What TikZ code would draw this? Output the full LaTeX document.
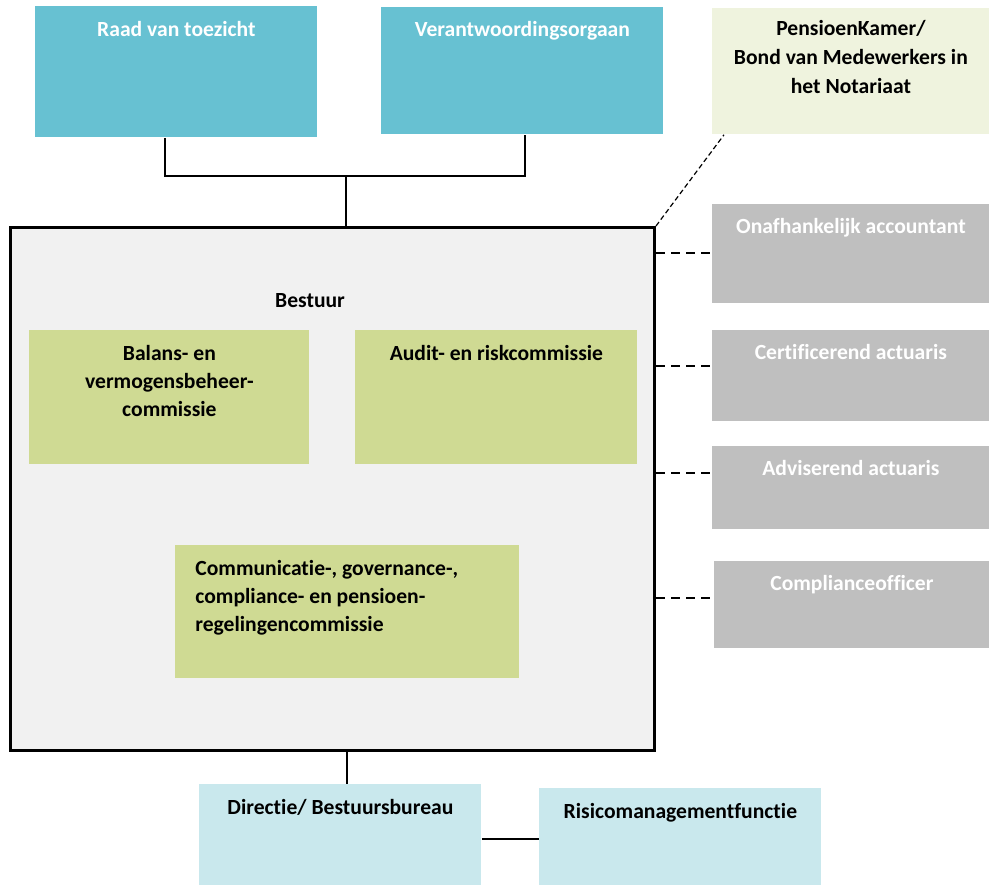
\documentclass[tikz,border=0pt]{standalone}
\usepackage{fontspec}
\setmainfont{Carlito}[Ligatures=NoCommon]
\usetikzlibrary{positioning}
\definecolor{toezichtblue}{RGB}{103,193,210}
\definecolor{kamercream}{RGB}{239,243,222}
\definecolor{bestuurgray}{RGB}{241,241,241}
\definecolor{cieGreen}{RGB}{207,218,147}
\definecolor{extgray}{RGB}{191,191,191}
\definecolor{direcblue}{RGB}{201,232,237}

\begin{document}
\begin{tikzpicture}[x=0.5pt, y=-0.5pt,
  box/.style 2 args={rectangle, inner sep=0pt, anchor=north west,
    minimum width=#1*0.5pt, minimum height=#2*0.5pt},
  lbl/.style={font={\fontsize{10.8}{14}\selectfont\bfseries}, anchor=base,
    align=center, inner sep=0pt},
  wlbl/.style={lbl, text=white},
  con/.style={line width=1pt},
  dcon/.style={line width=1pt, dash pattern=on 4.5pt off 3pt},
]
\useasboundingbox (0,0) rectangle (989,885);
% Toezicht en verantwoording
\node[box={282}{131}, fill=toezichtblue] (raad) at (35,6) {};
\node[wlbl] (raad-t) at ([yshift=-15pt]raad.north) {Raad van toezicht};
\node[box={282}{127}, fill=toezichtblue] (verant) at (381,7) {};
\node[wlbl] (verant-t) at ([yshift=-14.5pt]verant.north) {Verantwoordingsorgaan};
\node[box={277}{126}, fill=kamercream] (kamer) at (712,8) {};
% multi-line labels sit on their last baseline
\node[lbl, font={\fontsize{10.8}{14.5}\selectfont\bfseries}] (kamer-t) at ([yshift=-42.5pt]kamer.north)
  {PensioenKamer/\\Bond van Medewerkers in\\het Notariaat};
% Bestuur met commissies
\node[box={644}{523}, fill=bestuurgray, draw=black, line width=1.5pt] (bestuur) at (9,226) {};
\node[lbl] (bestuur-t) at (310,307) {Bestuur};
\node[box={280}{134}, fill=cieGreen] (balans) at (29,330) {};
\node[lbl] (balans-t) at ([yshift=-43pt]balans.north)
  {Balans- en\\vermogensbeheer-\\commissie};
\node[box={282}{134}, fill=cieGreen] (audit) at (355,330) {};
\node[lbl] (audit-t) at ([yshift=-15pt]audit.north) {Audit- en riskcommissie};
\node[box={344}{133}, fill=cieGreen] (commu) at (175,545) {};
\node[lbl, anchor=base west, align=left] (commu-t) at ([xshift=10pt, yshift=-43pt]commu.north west)
  {Communicatie-, governance-,\\compliance- en pensioen-\\regelingencommissie};
% Externe functies
\foreach \nm/\x/\y/\w/\h/\ty/\txt in {
    acc/712/204/277/99/253/Onafhankelijk accountant,
    cert/712/330/277/91/366/Certificerend actuaris,
    advi/712/446/277/83/473/Adviserend actuaris,
    compl/714/561/275/87/598/Complianceofficer} {
  \node[box={\w}{\h}, fill=extgray] (\nm) at (\x,\y) {};
  \node[wlbl] (\nm-t) at ([yshift=-14.75pt]\nm.north) {\txt};
  \draw[dcon] (bestuur.east |- 0,\ty) -- (\nm.west |- 0,\ty);
}
\draw[line width=0.6pt, dash pattern=on 2.5pt off 1.5pt] (bestuur.north east) -- (kamer.south west -| 724,0);
% Directie
\node[box={282}{101}, fill=direcblue] (direc) at (199,784) {};
\node[lbl] (direc-t) at ([yshift=-15pt]direc.north) {Directie/ Bestuursbureau};
\node[box={282}{97}, fill=direcblue] (risico) at (539,788) {};
\node[lbl] (risico-t) at ([yshift=-15pt]risico.north) {Risicomanagementfunctie};
% Verbindingen
\coordinate (junc) at (346,176);
\draw[con] (raad.south -| 165,0) |- (junc) -| (verant.south -| 525,0);
\draw[con] (junc) -- (bestuur.north -| junc);
\draw[con] (bestuur.south -| 347,0) -- (direc.north -| 347,0);
\draw[con] (direc.east |- 0,839) -- (risico.west |- 0,839);
\end{tikzpicture}
\end{document}
